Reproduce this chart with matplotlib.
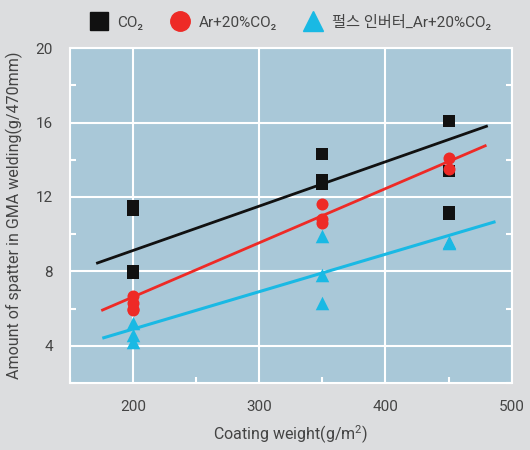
import matplotlib
matplotlib.use("Agg")
import matplotlib.pyplot as plt
from matplotlib.ticker import MultipleLocator

plt.rcParams['font.family'] = ['Roboto', 'Noto Sans CJK KR', 'DejaVu Sans']
plt.rcParams['mathtext.fontset'] = 'custom'
plt.rcParams['mathtext.rm'] = 'Roboto'

# measured points
co2_x = [200, 200, 200, 200, 350, 350, 350, 450, 450, 450, 450]
co2_y = [11.5, 11.3, 8.0, 7.9, 14.3, 12.9, 12.7, 16.1, 13.4, 11.2, 11.1]
ar_x = [200, 200, 200, 200, 350, 350, 350, 450, 450]
ar_y = [6.7, 6.3, 6.0, 5.9, 11.6, 10.8, 10.6, 14.1, 13.5]
pulse_x = [200, 200, 200, 350, 350, 350, 450, 450]
pulse_y = [5.2, 4.6, 4.2, 9.9, 7.8, 6.3, 9.6, 9.5]

# trend lines (end points)
co2_fit_x = [172, 480]
co2_fit_y = [8.45, 15.8]
ar_fit_x = [176, 479]
ar_fit_y = [5.92, 14.75]
pulse_fit_x = [177, 486]
pulse_fit_y = [4.43, 10.65]

labels = ["CO₂", "Ar+20%CO₂", "펄스 인버터_Ar+20%CO₂"]

BG = "#dcdddf"
FACE = "#a9c8d8"
BLACK = "#111111"
RED = "#ee2a26"
CYAN = "#19b9e4"
TXT = "#444444"

fig = plt.figure(figsize=(5.3, 4.5), dpi=100, facecolor=BG)
ax = fig.add_axes([0.1315, 0.149, 0.834, 0.744])
ax.set_facecolor(FACE)

ax.plot(co2_fit_x, co2_fit_y, color=BLACK, lw=2, zorder=2)
ax.plot(ar_fit_x, ar_fit_y, color=RED, lw=2, zorder=2)
ax.plot(pulse_fit_x, pulse_fit_y, color=CYAN, lw=2.2, zorder=2)

ax.scatter(co2_x, co2_y, marker='s', s=70, color=BLACK, zorder=3, linewidths=0)
ax.scatter(ar_x, ar_y, marker='o', s=75, color=RED, zorder=4, linewidths=0)
ax.scatter(pulse_x, pulse_y, marker='^', s=95, color=CYAN, zorder=5, linewidths=0)

ax.set_xlim(150, 500)
ax.set_ylim(2, 20)
ax.xaxis.set_major_locator(MultipleLocator(100))
ax.xaxis.set_minor_locator(MultipleLocator(50))
ax.yaxis.set_major_locator(MultipleLocator(4))
ax.yaxis.set_minor_locator(MultipleLocator(2))
ax.grid(True, which='major', color='white', lw=1.5, zorder=1)
ax.set_axisbelow(True)
for sp in ax.spines.values():
    sp.set_color('white')
    sp.set_linewidth(1.5)
ax.tick_params(which='both', direction='in', color='white', labelcolor=TXT,
               labelsize=11, right=True, top=False)
ax.tick_params(which='major', length=0, pad=12)
ax.tick_params(which='minor', length=4, width=1.5)

ax.set_xlabel("Coating weight(g/m$^2$)", fontsize=11.5, color=TXT, labelpad=7)
ax.set_ylabel("Amount of spatter in GMA welding(g/470mm)", fontsize=11.5, color=TXT, labelpad=9)

h1 = plt.Line2D([], [], ls='', marker='s', ms=13, color=BLACK)
h2 = plt.Line2D([], [], ls='', marker='o', ms=14, color=RED)
h3 = plt.Line2D([], [], ls='', marker='^', ms=15, color=CYAN)
leg = fig.legend([h1, h2, h3], labels, loc='upper right', bbox_to_anchor=(0.952, 1.0),
                 ncol=3, frameon=False, fontsize=11, handletextpad=0.6, columnspacing=1.8,
                 handlelength=1.2)
for t in leg.get_texts():
    t.set_color(TXT)

fig.savefig("out.png", dpi=100, facecolor=BG)
